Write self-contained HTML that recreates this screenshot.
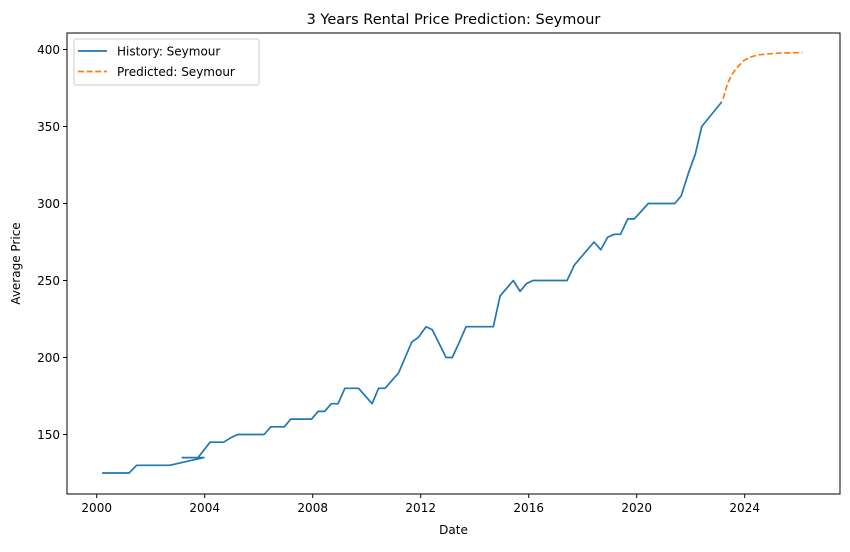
<!DOCTYPE html>
<html><head><meta charset="utf-8"><style>
body{margin:0;background:#fff;font-family:"Liberation Sans","DejaVu Sans",sans-serif}
</style></head><body>
<svg id="c" width="850" height="547" xmlns="http://www.w3.org/2000/svg" font-family="DejaVu Sans, Liberation Sans, sans-serif"></svg>
<script>
const histYears=[2000.2,2001.2,2001.48,2002.7,2003.97,2003.17,2003.75,2004.2,2004.7,2004.98,2005.22,2006.2,2006.45,2006.95,2007.19,2007.96,2008.2,2008.44,2008.69,2008.94,2009.19,2009.7,2010.2,2010.44,2010.68,2011.18,2011.67,2011.91,2012.2,2012.43,2012.94,2013.17,2013.43,2013.68,2014.69,2014.94,2015.43,2015.68,2015.92,2016.16,2017.42,2017.69,2018.42,2018.67,2018.92,2019.16,2019.4,2019.67,2019.91,2020.43,2021.41,2021.65,2021.92,2022.17,2022.41,2023.15];
const histValues=[125,125,130,130,135,135,135,145,145,148,150,150,155,155,160,160,165,165,170,170,180,180,170,180,180,190,210,213,220,218,200,200,210,220,220,240,250,243,248,250,250,260,275,270,278,280,280,290,290,300,300,305,320,332,350,366];
const predYears=[2023.2,2023.35,2023.5,2023.7,2023.98,2024.2,2024.48,2025.2,2026.13];
const predValues=[368,377,383,388,393,395,396.5,397.6,398];
const xTicks=[2000,2004,2008,2012,2016,2020,2024];
const yTicks=[150,200,250,300,350,400];
const L=67,R=840,T=33,B=494;
const xs=v=>96.7+(v-2000)*27.0;
const ys=v=>49.5+(400-v)*1.54;
const svg=document.getElementById('c');
const NS='http://www.w3.org/2000/svg';
function add(tag,attrs,parent){const e=document.createElementNS(NS,tag);for(const k in attrs)e.setAttribute(k,attrs[k]);(parent||svg).appendChild(e);return e;}
let t=add('text',{x:(L+R)/2,y:24,'text-anchor':'middle','font-size':14.5,fill:'#000'});t.textContent='3 Years Rental Price Prediction: Seymour';


const hp=add('polyline',{points:histYears.map((y,i)=>xs(y)+','+ys(histValues[i])).join(' '),fill:'none',stroke:'#1f77b4','stroke-width':1.7,'stroke-linejoin':'round'});


const pp=add('polyline',{points:predYears.map((y,i)=>xs(y)+','+ys(predValues[i])).join(' '),fill:'none',stroke:'#ff7f0e','stroke-width':1.7,'stroke-dasharray':'6,2.6'});


const fr=add('rect',{x:L,y:T,width:R-L,height:B-T,fill:'none',stroke:'#000','stroke-width':1});


xTicks.forEach(v=>{const x=xs(v);add('line',{x1:x,x2:x,y1:B,y2:B+4,stroke:'#000'});const tx=add('text',{x:x,y:B+18,'text-anchor':'middle','font-size':12});tx.textContent=v;

});
yTicks.forEach(v=>{const y=ys(v);add('line',{x1:L-4,x2:L,y1:y,y2:y,stroke:'#000'});const tx=add('text',{x:L-7,y:y+4.5,'text-anchor':'end','font-size':12});tx.textContent=v;

});
let xl=add('text',{x:(L+R)/2,y:534,'text-anchor':'middle','font-size':12});xl.textContent='Date';


let yl=add('text',{x:0,y:0,transform:'translate(20,'+((T+B)/2)+') rotate(-90)','text-anchor':'middle','font-size':12});yl.textContent='Average Price';


const lg=add('g',{});


add('rect',{x:74,y:39,width:185,height:46,rx:2,fill:'#fff',stroke:'#ccc'},lg);
add('line',{x1:78,x2:107,y1:51,y2:51,stroke:'#1f77b4','stroke-width':1.7},lg);
add('line',{x1:78,x2:107,y1:71.5,y2:71.5,stroke:'#ff7f0e','stroke-width':1.7,'stroke-dasharray':'6,2.6'},lg);
let l1=add('text',{x:117,y:55.5,'font-size':12},lg);l1.textContent='History: Seymour';


let l2=add('text',{x:117,y:76,'font-size':12},lg);l2.textContent='Predicted: Seymour';


</script>
</body></html>
